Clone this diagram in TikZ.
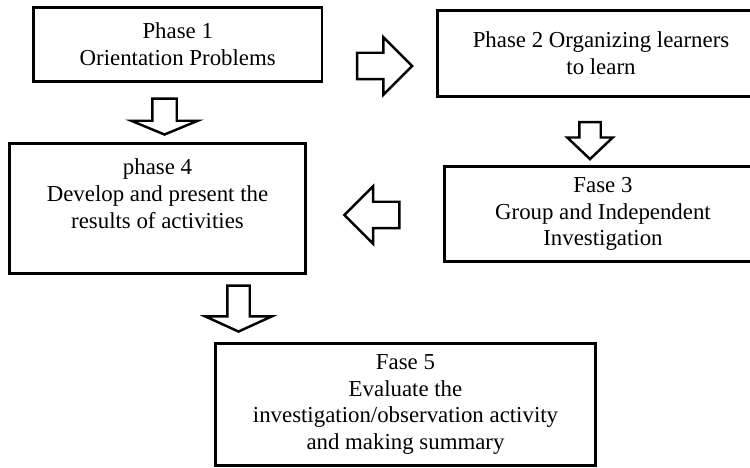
\documentclass[tikz,border=0pt]{standalone}
\usepackage{fontspec}
\setmainfont{Liberation Serif}
\usetikzlibrary{shapes.arrows}

\tikzset{
  phasebox/.style={draw, line width=1.6pt, align=center, inner sep=2pt,
    font=\fontsize{13}{15.3}\selectfont},
  phasetext/.style={align=center, inner sep=0pt, font=\fontsize{13}{15.3}\selectfont},
  blockarrow/.style={draw, single arrow, line width=1.4pt, fill=white,
    single arrow head indent=0pt}
}

\begin{document}
\begin{tikzpicture}

	% cadre de l'image
	\clip (0,0) rectangle (15,-9.36);
	
	% Les cinq phases
	\node[phasebox, minimum width=5.77cm, minimum height=1.49cm] (p1) at (3.555,-0.89) {Phase 1\\Orientation Problems};
	\node[phasebox, minimum width=6.55cm, minimum height=1.73cm] (p2) at (12.02,-1.07) {Phase 2 Organizing learners\\to learn};
	\node[phasebox, minimum width=6.35cm, minimum height=1.91cm] (p3) at (12.06,-4.28) {Fase 3\\Group and Independent\\Investigation};
	\node[phasebox, minimum width=5.93cm, minimum height=2.61cm] (p4) at (3.15,-4.17) {};
	\node[phasetext] (p4text) at (3.15,-3.88) {phase 4\\Develop and present the\\results of activities};
	\node[phasebox, minimum width=7.61cm, minimum height=2.45cm] (p5) at (8.11,-8.09) {Fase 5\\Evaluate the\\investigation/observation activity\\and making summary};
	
	% Flèches creuses entre les phases
	\node[blockarrow, inner sep=0.24cm, minimum height=1.1cm, single arrow head extend=0.31cm, single arrow tip angle=90] (a12) at (7.56,-1.32) {};               % 1 -> 2
	\node[blockarrow, inner sep=0.22cm, minimum height=0.72cm, single arrow head extend=0.42cm, single arrow tip angle=135, rotate=-90] (a14) at (3.29,-2.28) {}; % 1 -> 4
	\node[blockarrow, inner sep=0.19cm, minimum height=0.74cm, single arrow head extend=0.24cm, single arrow tip angle=93, rotate=-90] (a23) at (11.80,-2.71) {};  % 2 -> 3
	\node[blockarrow, inner sep=0.24cm, minimum height=1.1cm, single arrow head extend=0.31cm, single arrow tip angle=90, rotate=180] (a34) at (7.57,-4.30) {};   % 3 -> 4
	\node[blockarrow, inner sep=0.20cm, minimum height=0.92cm, single arrow head extend=0.44cm, single arrow tip angle=131, rotate=-90] (a45) at (4.77,-6.12) {}; % 4 -> 5

\end{tikzpicture}
\end{document}
